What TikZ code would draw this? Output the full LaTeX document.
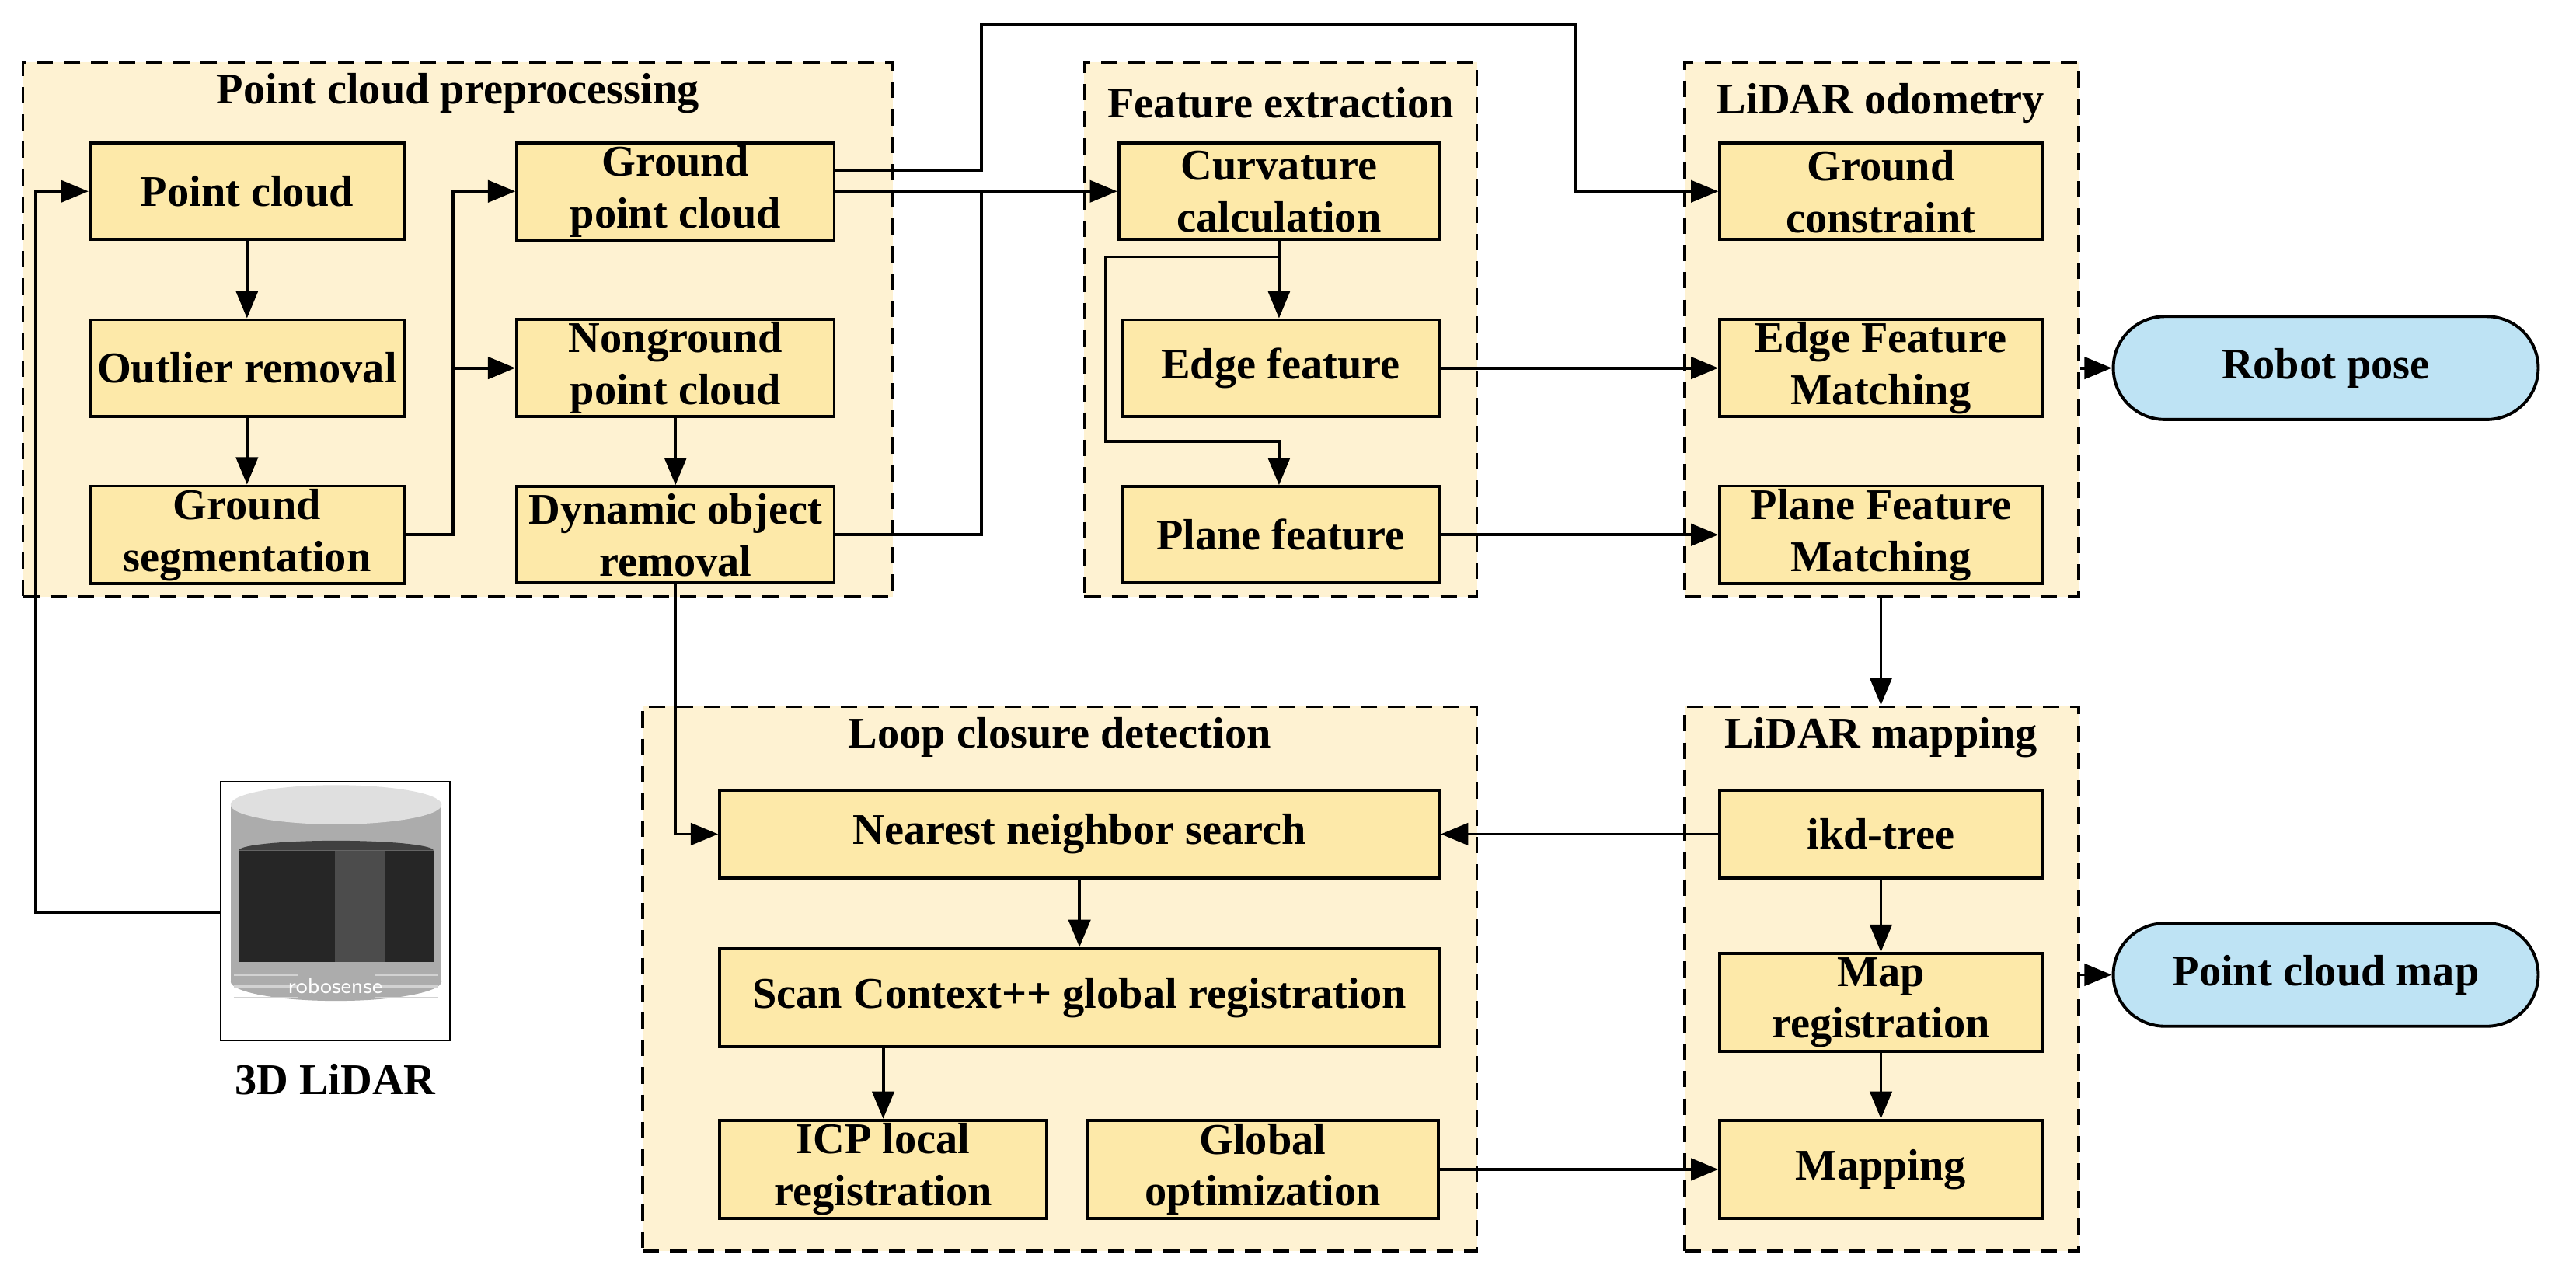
\documentclass[tikz,border=0pt]{standalone}
\usepackage{fontspec}
\setmainfont{Liberation Serif}
\usepackage{xcolor}
\usetikzlibrary{positioning,arrows.meta,shapes.misc}
\definecolor{grpfill}{HTML}{FEF2D2}
\definecolor{boxfill}{HTML}{FDE9A9}
\definecolor{pillfill}{HTML}{BEE3F4}
\tikzset{
  grp/.style={draw, dashed, line width=1pt, dash pattern=on 6pt off 4pt, fill=grpfill},
  box/.style={draw, line width=1.1pt, fill=boxfill, align=center, inner sep=1pt},
  pill/.style={draw, line width=1.1pt, fill=pillfill, rounded rectangle, minimum width=271*0.021cm, minimum height=63*0.021cm},
  ttl/.style={font=\fontsize{16}{19}\selectfont\bfseries},
  arr/.style={-{Triangle[length=10pt,width=8pt]}, line width=1.1pt},
  ln/.style={line width=1.1pt}
}
\begin{document}
\begin{tikzpicture}[x=0.021cm, y=-0.021cm, every node/.style={font=\fontsize{16}{19}\selectfont\bfseries}]
    \useasboundingbox (0,0) rectangle (1575,782);

    % Groups
    \node[grp, minimum width=532*0.021cm, minimum height=327*0.021cm] (gprep) at (280,201.5) {};
    \node[grp, minimum width=240*0.021cm, minimum height=327*0.021cm] (gfeat) at (783,201.5) {};
    \node[grp, minimum width=241*0.021cm, minimum height=327*0.021cm] (godom) at (1150.5,201.5) {};
    \node[grp, minimum width=510*0.021cm, minimum height=333*0.021cm] (gloop) at (648,598.5) {};
    \node[grp, minimum width=241*0.021cm, minimum height=333*0.021cm] (gmap) at (1150.5,598.5) {};
    \node[ttl] (tprep) at (280,57) {Point cloud preprocessing};
    \node[ttl] (tfeat) at (783,63) {Feature extraction};
    \node[ttl] (todom) at (1150,63) {LiDAR odometry};
    \node[ttl] (tloop) at (648,451) {Loop closure detection};
    \node[ttl] (tmap) at (1150,451) {LiDAR mapping};

    % Preprocessing
    \node[box, minimum width=192*0.021cm, minimum height=59*0.021cm] (pc) at (151,117) {Point cloud};
    \node[box, minimum width=192*0.021cm, minimum height=59*0.021cm] (out) at (151,225) {Outlier removal};
    \node[box, minimum width=192*0.021cm, minimum height=59*0.021cm] (gseg) at (151,327) {Ground\\segmentation};
    \node[box, minimum width=194*0.021cm, minimum height=59*0.021cm] (gpc) at (413,117) {Ground\\point cloud};
    \node[box, minimum width=194*0.021cm, minimum height=59*0.021cm] (ngpc) at (413,225) {Nonground\\point cloud};
    \node[box, minimum width=194*0.021cm, minimum height=59*0.021cm] (dyn) at (413,327) {Dynamic object\\removal};

    % Features
    \node[box, minimum width=196*0.021cm, minimum height=59*0.021cm] (curv) at (782,117) {Curvature\\calculation};
    \node[box, minimum width=194*0.021cm, minimum height=59*0.021cm] (edge) at (783,225) {Edge feature};
    \node[box, minimum width=194*0.021cm, minimum height=59*0.021cm] (plane) at (783,327) {Plane feature};

    % Odometry
    \node[box, minimum width=197*0.021cm, minimum height=59*0.021cm] (gc) at (1150,117) {Ground\\constraint};
    \node[box, minimum width=197*0.021cm, minimum height=59*0.021cm] (efm) at (1150,225) {Edge Feature\\Matching};
    \node[box, minimum width=197*0.021cm, minimum height=59*0.021cm] (pfm) at (1150,327) {Plane Feature\\Matching};
    \node[pill] (robot) at (1422,225) {Robot pose};

    % Loop closure
    \node[box, minimum width=440*0.021cm, minimum height=54*0.021cm] (nn) at (660,510) {Nearest neighbor search};
    \node[box, minimum width=440*0.021cm, minimum height=60*0.021cm] (sc) at (660,610) {Scan Context++ global registration};
    \node[box, minimum width=200*0.021cm, minimum height=60*0.021cm] (icp) at (540,715) {ICP local\\registration};
    \node[box, minimum width=215*0.021cm, minimum height=60*0.021cm] (gopt) at (772,715) {Global\\optimization};

    % Mapping
    \node[box, minimum width=197*0.021cm, minimum height=54*0.021cm] (ikd) at (1150,510) {ikd-tree};
    \node[box, minimum width=197*0.021cm, minimum height=60*0.021cm] (mreg) at (1150,613) {Map\\registration};
    \node[box, minimum width=197*0.021cm, minimum height=60*0.021cm] (mapping) at (1150,715) {Mapping};
    \node[pill] (pcmap) at (1422,596) {Point cloud map};

    % LiDAR sensor
    \draw[line width=0.6pt, fill=white] (135,478) rectangle (275,636);
    \fill[gray!65] (141,492) rectangle (270,600);
    \fill[gray!65] (205.5,600) ellipse (64.5 and 12);
    \fill[black!85] (146,520) rectangle (265,588);
    \fill[black!70] (205,520) rectangle (235,588);
    \fill[black!75] (146,520) arc (180:360:59.5 and 6) -- cycle;
    \foreach \yy in {596,603,610}
        \draw[gray!35, line width=0.8pt] (143,\yy) -- (182,\yy) (229,\yy) -- (268,\yy);
    \fill[gray!25] (205.5,492) ellipse (64.5 and 12);
    \node[box, draw=none, fill=none, text=white, font=\fontsize{8}{9}\selectfont\sffamily] (brand) at (205,603) {robosense};
    \coordinate (lidar) at (135,558);
    \node (lidarlbl) at (205,660) {3D LiDAR};

    % Preprocessing connectors
    \draw[arr] (lidar) -- (22,558) |- (pc.west);
    \draw[arr] (pc) -- (out);
    \draw[arr] (out) -- (gseg);
    \draw[arr] (gseg.east) -- (277,327) |- (gpc.west);
    \draw[arr] (277,225) -- (ngpc.west);
    \draw[arr] (ngpc) -- (dyn);
    \draw[ln] (dyn.east) -- (600,327) -- (600,117);
    \draw[arr] (gpc.east) -- (curv.west);
    \draw[arr] ([yshift=13*0.021cm]gpc.east) -- (600,104) -- (600,15) -- (963,15) |- (gc.west);
    \draw[arr] (dyn.south) |- (nn.west);

    % Feature connectors
    \draw[arr] (curv.south) -- (edge.north -| curv.south);
    \draw[arr] (curv.south |- 0,157) -- (676,157) -- (676,270) -| (plane.north -| curv.south);
    \draw[arr] (edge) -- (efm);
    \draw[arr] (plane) -- (pfm);
    \draw[arr] (godom.east |- robot) -- (robot);
    \draw[arr] (godom.south -| pfm) -- (gmap.north -| pfm);

    % Loop / mapping connectors
    \draw[arr] (ikd) -- (nn);
    \draw[arr] (nn.south) -- (sc.north);
    \draw[arr] (sc.south -| icp) -- (icp);
    \draw[arr] (gopt) -- (mapping);
    \draw[arr] (ikd) -- (mreg);
    \draw[arr] (mreg) -- (mapping);
    \draw[arr] (gmap.east |- pcmap) -- (pcmap);
\end{tikzpicture}
\end{document}
